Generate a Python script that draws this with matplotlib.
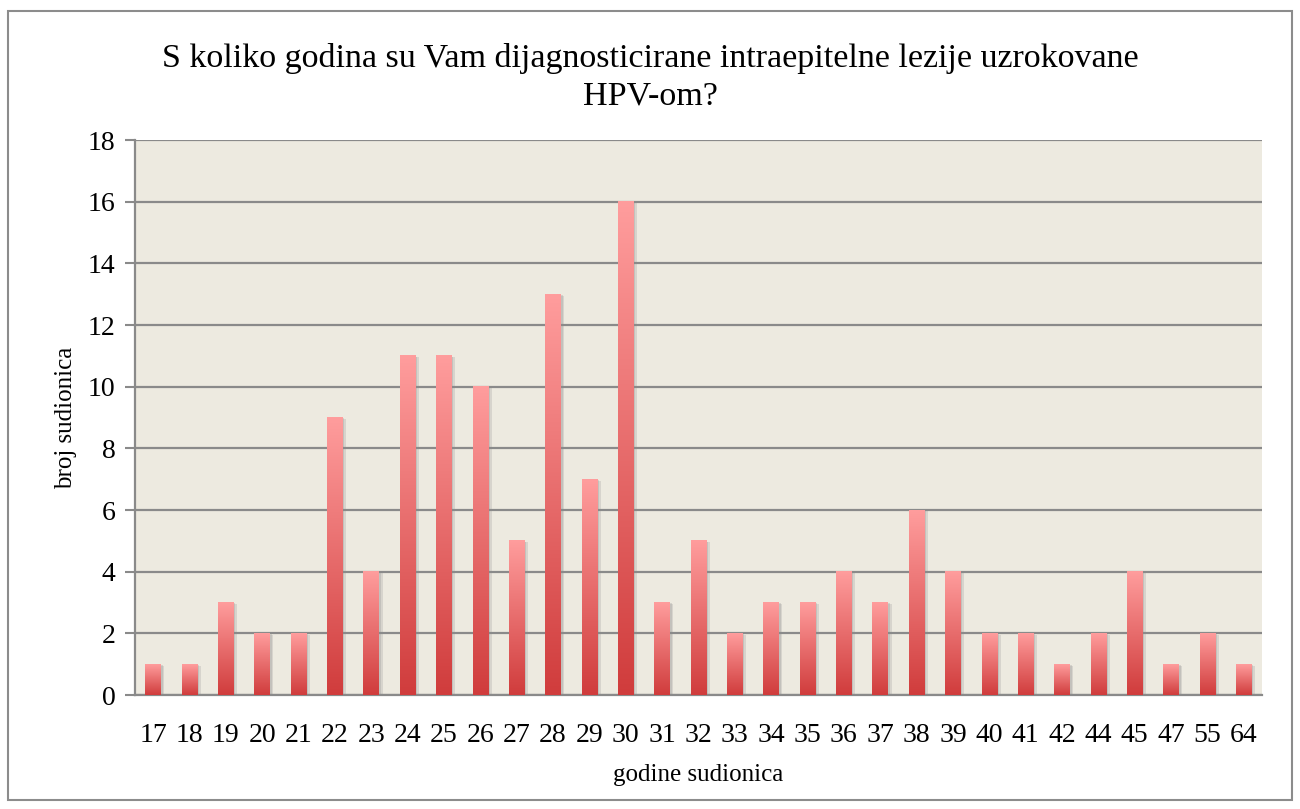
import matplotlib
matplotlib.use("Agg")
import matplotlib.pyplot as plt
import matplotlib.patheffects as pe
from matplotlib.colors import LinearSegmentedColormap
from matplotlib.patches import Rectangle
import numpy as np

ages = ["17", "18", "19", "20", "21", "22", "23", "24", "25", "26", "27", "28",
        "29", "30", "31", "32", "33", "34", "35", "36", "37", "38", "39", "40",
        "41", "42", "44", "45", "47", "55", "64"]
counts = [1, 1, 3, 2, 2, 9, 4, 11, 11, 10, 5, 13, 7, 16, 3, 5, 2, 3, 3, 4, 3,
          6, 4, 2, 2, 1, 2, 4, 1, 2, 1]

title = "S koliko godina su Vam dijagnosticirane intraepitelne lezije uzrokovane\nHPV-om?"

plt.rcParams['font.family'] = ['Liberation Serif', 'DejaVu Serif']

fig = plt.figure(figsize=(13, 8.09), dpi=100)
ax = fig.add_axes([0.1038, 0.1409, 0.8670, 0.6860])
ax.set_facecolor('#edeae0')

# outer frame
fig.patches.append(Rectangle((0.006, 0.011), 0.988, 0.975, transform=fig.transFigure,
                             fill=False, edgecolor='#8c8c8c', linewidth=1.5))

cmap = LinearSegmentedColormap.from_list('rg', ['#d03c3c', '#ff9d9d'])
grad = np.linspace(0, 1, 256).reshape(-1, 1)

x = np.arange(len(ages))
w = 0.43
bars = ax.bar(x, counts, width=w, color='#e06060', zorder=3,
              path_effects=[pe.SimplePatchShadow(offset=(2.5, -1), shadow_rgbFace='#8a8a8a', alpha=0.22),
                            pe.SimplePatchShadow(offset=(1.2, -0.5), shadow_rgbFace='#8a8a8a', alpha=0.25),
                            pe.Normal()])
for xi, c in zip(x, counts):
    ax.imshow(grad, extent=[xi - w / 2, xi + w / 2, 0, c], origin='lower',
              aspect='auto', cmap=cmap, zorder=4)

ax.set_xlim(-0.5, len(ages) - 0.5)
ax.set_ylim(0, 18)
ax.set_yticks(range(0, 19, 2))
ax.set_xticks(x)
ax.set_xticklabels(ages)
ax.grid(axis='y', color='#8a8a8a', linewidth=1.6, zorder=1)
ax.set_axisbelow(True)

for s in ['top', 'right']:
    ax.spines[s].set_visible(False)
for s in ['left', 'bottom']:
    ax.spines[s].set_color('#8a8a8a')
    ax.spines[s].set_linewidth(1.6)

ax.tick_params(axis='y', length=7, width=1.5, color='#8a8a8a', labelsize=20, pad=7)
ax.tick_params(axis='x', length=0, labelsize=20, pad=20)

ax.set_xlabel("godine sudionica", fontsize=18, labelpad=12)
ax.set_ylabel("broj sudionica", fontsize=18, labelpad=8)
fig.text(0.5, 0.905, title, ha='center', va='center', fontsize=24.5, linespacing=1.3)

fig.savefig("out.png", dpi=100)
